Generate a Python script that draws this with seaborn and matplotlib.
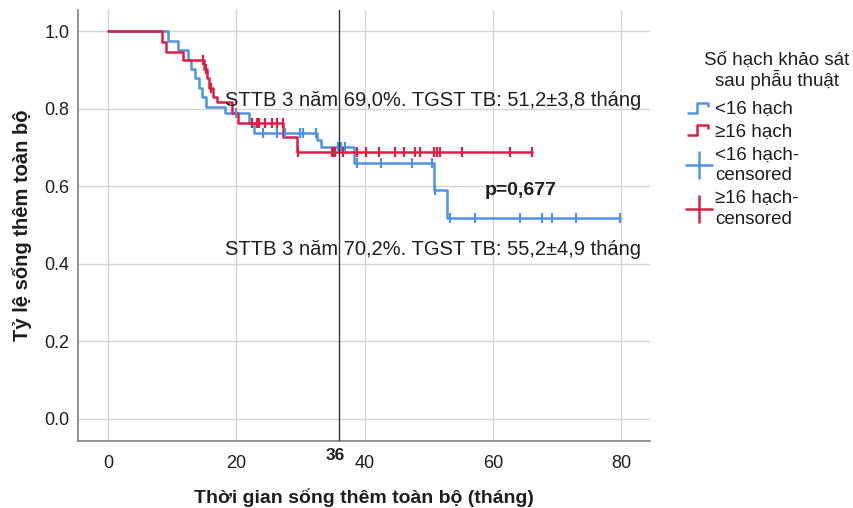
import numpy as np
import pandas as pd
import seaborn as sns
import matplotlib
matplotlib.use("Agg")
import matplotlib.pyplot as plt
from matplotlib.lines import Line2D
from matplotlib.path import Path

# ---------------- data ----------------
# group <16 hach (blue): event times and survival after each event
blue_times = [0, 9.4, 10.9, 12.5, 13.0, 13.6, 14.1, 14.7, 15.2, 18.3, 21.9, 22.7, 32.6, 33.2, 38.3, 50.8, 52.8]
blue_surv = [1.0, 0.975, 0.951, 0.926, 0.902, 0.878, 0.853, 0.829, 0.805, 0.788, 0.764, 0.738, 0.720, 0.702, 0.659, 0.590, 0.517]
blue_censor = [20.0, 24.2, 26.3, 27.6, 30.0, 30.4, 32.5, 35.9, 36.4, 37.0, 38.8, 42.6, 47.4, 50.5,
               51.0, 53.4, 57.3, 64.3, 67.7, 69.2, 72.9, 79.9]

# group >=16 hach (red)
red_times = [0, 8.4, 9.1, 11.7, 15.0, 15.4, 15.8, 16.4, 17.0, 19.4, 20.3, 27.3, 29.5]
red_surv = [1.0, 0.973, 0.947, 0.925, 0.903, 0.878, 0.852, 0.831, 0.818, 0.790, 0.764, 0.728, 0.689]
red_censor = [14.8, 15.2, 16.0, 22.4, 23.2, 23.5, 24.5, 25.5, 26.3, 27.2, 29.6, 34.9, 35.1, 35.4, 36.7,
              38.8, 40.3, 42.2, 44.8, 46.1, 47.9, 48.7, 50.8, 51.3, 51.8, 55.2, 62.7, 66.1]

group_labels = ["<16 hạch", "≥16 hạch"]
censor_labels = ["<16 hạch-\ncensored", "≥16 hạch-\ncensored"]
legend_title = "Số hạch khảo sát\nsau phẫu thuật"
x_ticks = [0, 20, 40, 60, 80]
y_ticks = [0.0, 0.2, 0.4, 0.6, 0.8, 1.0]
cut_month = 36
text_red = "STTB 3 năm 69,0%. TGST TB: 51,2±3,8 tháng"
text_blue = "STTB 3 năm 70,2%. TGST TB: 55,2±4,9 tháng"
p_text = "p=0,677"
xlabel = "Thời gian sống thêm toàn bộ (tháng)"
ylabel = "Tỷ lệ sống thêm toàn bộ"

BLUE = "#4f94e3"
RED = "#dc1e45"
TXT = "#1e1e1e"

# ---------------- figure ----------------
sns.set_theme(style="white")
plt.rcParams["font.family"] = ["Liberation Sans", "DejaVu Sans"]

fig = plt.figure(figsize=(8.54, 5.08), dpi=100)
ax = fig.add_axes([0.0913, 0.132, 0.6697, 0.848])


def step_frame(times, surv, censor):
    t = list(times) + [max(censor)]
    s = list(surv) + [surv[-1]]
    return pd.DataFrame({"t": t, "s": s})


def censor_frame(times, surv, censor):
    idx = np.searchsorted(np.array(times), np.array(censor), side="right") - 1
    return pd.DataFrame({"t": censor, "s": np.array(surv)[idx]})


for times, surv, cens, col in [(blue_times, blue_surv, blue_censor, BLUE),
                               (red_times, red_surv, red_censor, RED)]:
    sdf = step_frame(times, surv, cens)
    sns.lineplot(data=sdf, x="t", y="s", drawstyle="steps-post", color=col,
                 linewidth=1.8, sort=False, estimator=None, ax=ax, legend=False)
    cdf = censor_frame(times, surv, cens)
    sns.scatterplot(data=cdf, x="t", y="s", marker="|", s=55, linewidth=1.6,
                    color=col, ax=ax, legend=False, zorder=3)

ax.axvline(cut_month, color="#333333", linewidth=1.0, zorder=4)

ax.set_xlim(-4.7, 84.5)
ax.set_ylim(-0.057, 1.054)
ax.set_xticks(x_ticks)
ax.set_yticks(y_ticks)
ax.set_yticklabels([f"{v:.1f}" for v in y_ticks])
ax.grid(True, color="#d4d4d4", linewidth=1.0)
ax.set_axisbelow(True)
for side in ["top", "right"]:
    ax.spines[side].set_visible(False)
for side in ["left", "bottom"]:
    ax.spines[side].set_color("#8a8a8a")
    ax.spines[side].set_linewidth(1.3)
ax.tick_params(axis="both", length=0, colors=TXT)
ax.tick_params(axis="x", pad=10, labelsize=13)
ax.tick_params(axis="y", pad=6, labelsize=13)

# bold "36" label under the axis
ax.text(cut_month - 0.6, -0.075, str(cut_month), ha="center", va="top",
        fontsize=12.5, fontweight="bold", color=TXT)

ax.set_xlabel(xlabel, fontsize=14, fontweight="bold", labelpad=12, color=TXT)
ax.set_ylabel(ylabel, fontsize=14.5, fontweight="bold", labelpad=9, color=TXT)

ax.text(18.3, 0.822, text_red, fontsize=14.5, va="center", ha="left", color=TXT)
ax.text(18.3, 0.436, text_blue, fontsize=14.5, va="center", ha="left", color=TXT)
ax.text(58.7, 0.588, p_text, fontsize=14, fontweight="bold", va="center", ha="left", color=TXT)

# legend
step_path = Path([(-1.0, -0.4), (-0.15, -0.4), (-0.15, 0.45), (0.75, 0.45), (0.75, 0.05)],
                 [Path.MOVETO, Path.LINETO, Path.LINETO, Path.LINETO, Path.LINETO])
handles = [
    Line2D([], [], linestyle="none", marker=step_path, markersize=17, markerfacecolor="none",
           markeredgecolor=BLUE, markeredgewidth=1.8),
    Line2D([], [], linestyle="none", marker=step_path, markersize=17, markerfacecolor="none",
           markeredgecolor=RED, markeredgewidth=1.8),
    Line2D([], [], linestyle="none", marker="+", markersize=20, markeredgewidth=1.8, color=BLUE),
    Line2D([], [], linestyle="none", marker="+", markersize=20, markeredgewidth=1.8, color=RED),
]
fig.text(777 / 854, 1 - 71 / 508, legend_title, ha="center", va="center", fontsize=13.5,
         color=TXT, linespacing=1.05)
leg = fig.legend(handles, group_labels + censor_labels,
                 loc="upper left", bbox_to_anchor=(689 / 854, 1 - 101 / 508), frameon=False,
                 fontsize=13.5, handlelength=1.1, handletextpad=0.3,
                 labelspacing=0.3, borderaxespad=0, borderpad=0)
for t in leg.get_texts():
    t.set_linespacing(1.3)
    t.set_color(TXT)

fig.savefig("out.png", dpi=100)
